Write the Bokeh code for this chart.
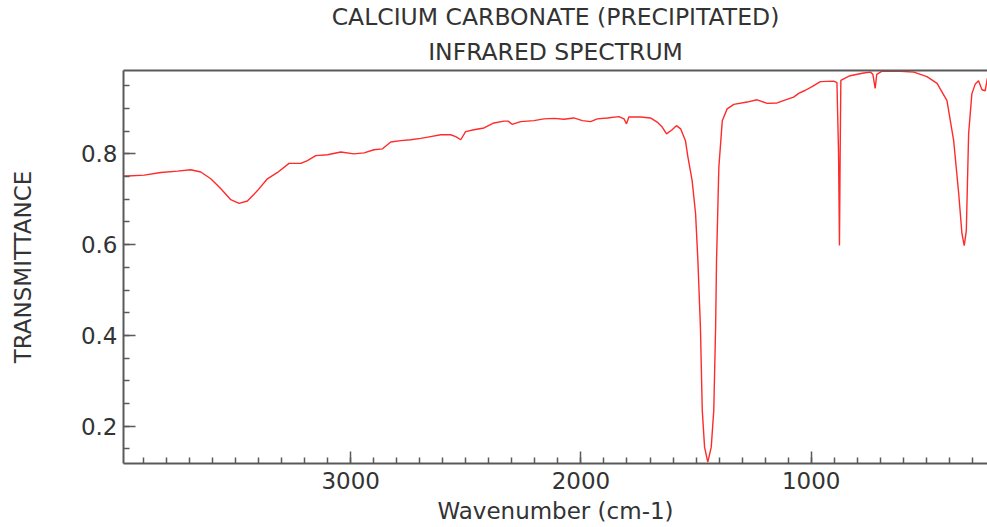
from bokeh.plotting import figure
from bokeh.models import Range1d, SingleIntervalTicker, FixedTicker, LinearAxis, Title
from bokeh.embed import file_html
from bokeh.resources import INLINE

title_line1 = "CALCIUM CARBONATE (PRECIPITATED)"
title_line2 = "INFRARED SPECTRUM"
x_label = "Wavenumber (cm-1)"
y_label = "TRANSMITTANCE"

wavenumber = [3990, 3969, 3897, 3825, 3752, 3695, 3651, 3608, 3564, 3521, 3485, 3449,
              3405, 3362, 3318, 3268, 3217, 3188, 3152, 3101, 3043, 2986, 2942, 2899,
              2862, 2826, 2783, 2740, 2696, 2653, 2609, 2566, 2544, 2522, 2501, 2465,
              2421, 2378, 2334, 2316, 2299, 2262, 2204, 2161, 2117, 2074, 2031, 1994,
              1958, 1929, 1886, 1835, 1813, 1802, 1792, 1741, 1698, 1669, 1647, 1628,
              1604, 1585, 1567, 1546, 1536, 1517, 1502, 1492, 1481, 1473, 1463, 1449,
              1434, 1423, 1415, 1411, 1401, 1386, 1365, 1336, 1278, 1235, 1191, 1148,
              1105, 1076, 1054, 1025, 996, 960, 902, 888, 881, 877, 874, 871, 831, 772,
              743, 732, 722, 715, 692, 612, 554, 497, 453, 410, 381, 359, 345, 335, 326,
              316, 302, 287, 273, 258, 244, 235, 230]
transmittance = [0.751, 0.751, 0.753, 0.759, 0.762, 0.765, 0.760, 0.745, 0.723, 0.699, 0.691, 0.696,
                 0.719, 0.745, 0.759, 0.779, 0.779, 0.785, 0.796, 0.798, 0.804, 0.800, 0.802, 0.809,
                 0.811, 0.826, 0.829, 0.831, 0.834, 0.838, 0.842, 0.842, 0.838, 0.831, 0.849, 0.853,
                 0.857, 0.868, 0.872, 0.872, 0.865, 0.871, 0.873, 0.877, 0.878, 0.876, 0.879, 0.873,
                 0.871, 0.877, 0.879, 0.882, 0.877, 0.866, 0.881, 0.881, 0.879, 0.870, 0.859, 0.844,
                 0.853, 0.862, 0.855, 0.829, 0.795, 0.741, 0.668, 0.565, 0.418, 0.235, 0.154, 0.121,
                 0.154, 0.235, 0.418, 0.565, 0.770, 0.873, 0.899, 0.909, 0.914, 0.919, 0.911, 0.912,
                 0.920, 0.925, 0.933, 0.940, 0.948, 0.959, 0.960, 0.957, 0.800, 0.598, 0.800, 0.962, 0.972, 0.978,
                 0.980, 0.975, 0.944, 0.975, 0.982, 0.982, 0.980, 0.970, 0.955, 0.917, 0.829, 0.712, 0.624, 0.598, 0.631,
                 0.844, 0.932, 0.954, 0.961, 0.941, 0.939, 0.965, 0.970]

FONT = "DejaVu Sans"
TXT = "#333333"
AX = "#5a5a5a"

p = figure(width=987, height=527, output_backend="svg", toolbar_location=None,
           x_range=Range1d(3987, 234), y_range=Range1d(0.118, 0.9835),
           min_border_left=123, min_border_right=0, min_border_top=70, min_border_bottom=64,
           background_fill_color="white", border_fill_color="white")
p.outline_line_color = None
p.xgrid.visible = False
p.ygrid.visible = False

p.line(wavenumber, transmittance, line_color="#ff2a2a", line_width=1.4)

xa = p.xaxis[0]
xa.ticker = SingleIntervalTicker(interval=1000, num_minor_ticks=10)
ya = p.yaxis[0]
ya.ticker = SingleIntervalTicker(interval=0.2, num_minor_ticks=4)
for ax in (xa, ya):
    ax.axis_line_color = AX
    ax.axis_line_width = 2
    ax.major_tick_line_color = AX
    ax.minor_tick_line_color = AX
    ax.major_tick_line_width = 1.5
    ax.minor_tick_line_width = 1.5
    ax.major_tick_in = 12
    ax.major_tick_out = 0
    ax.minor_tick_in = 6
    ax.minor_tick_out = 0
    ax.major_label_text_font = FONT
    ax.major_label_text_font_size = "23px"
    ax.major_label_text_color = TXT
    ax.axis_label_text_font = FONT
    ax.axis_label_text_font_size = "23px"
    ax.axis_label_text_color = TXT
    ax.axis_label_text_font_style = "normal"
xa.axis_label = x_label
ya.axis_label = y_label
xa.major_label_standoff = 8
xa.axis_label_standoff = 6
ya.major_label_standoff = 6
ya.axis_label_standoff = 42

top = LinearAxis(ticker=FixedTicker(ticks=[]), axis_line_color=AX, axis_line_width=2,
                 major_tick_line_color=None, minor_tick_line_color=None,
                 major_label_standoff=0, axis_label_standoff=0,
                 major_tick_in=0, major_tick_out=0, minor_tick_in=0, minor_tick_out=0)
p.add_layout(top, "above")
p.add_layout(Title(text=title_line2, align="center", text_font=FONT, text_font_size="23.5px",
                   text_color=TXT, text_font_style="normal", standoff=10), "above")
p.add_layout(Title(text=title_line1, align="center", text_font=FONT, text_font_size="23.5px",
                   text_color=TXT, text_font_style="normal", standoff=0), "above")

open("out.html", "w").write(file_html(p, INLINE))
